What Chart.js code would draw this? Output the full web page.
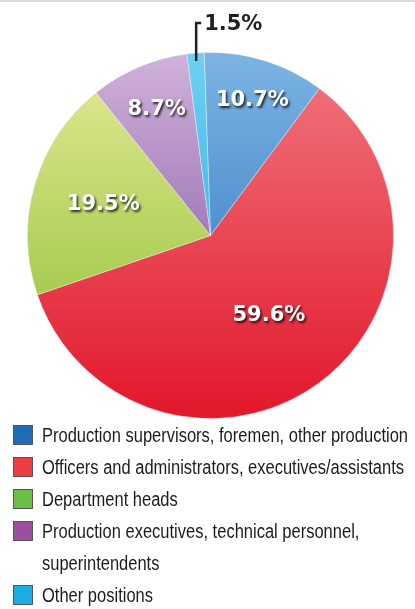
<!DOCTYPE html>
<html>
<head>
<meta charset="utf-8">
<script src="https://cdn.jsdelivr.net/npm/chart.js@4.4.1/dist/chart.umd.min.js"></script>
<style>
  body { margin: 0; background: #fff; width: 415px; height: 609px; overflow: hidden; }
  .topline { position: absolute; left: 0; top: 0; width: 415px; height: 2px; background: #dcdcdc; }
  .wrap { position: absolute; left: 0; top: 0; width: 415px; height: 425px; }
  #legend { position: absolute; left: 13px; top: 419px; margin: 0; padding: 0; list-style: none;
    font-family: 'Liberation Sans', Arial, sans-serif; font-size: 20px; color: #1e1b1c; }
  #legend li { position: relative; padding-left: 29px; line-height: 32px; }
  #legend .txt { display: inline-block; transform-origin: 0 0; }
  #legend .box { position: absolute; left: 0; top: 6px; width: 20px; height: 20px; border: 1px solid #555; box-sizing: border-box; }
</style>
</head>
<body>
<div class="topline"></div>
<div class="wrap"><canvas id="myChart"></canvas></div>
<ul id="legend"></ul>
<script>
const categories = [
  'Production supervisors, foremen, other production',
  'Officers and administrators, executives/assistants',
  'Department heads',
  'Production executives, technical personnel, superintendents',
  'Other positions'
];
const shares = [10.7, 59.6, 19.5, 8.7, 1.5];

// legend swatch colours, and light/dark ends of the slice shading
const legendColors = ['#1f6db5', '#ef3e42', '#6abf45', '#9c4f9e', '#1aace3'];
const lightColors = ['#7cb4e3', '#f07880', '#e6ea96', '#d0b2da', '#6fd0f2'];
const darkColors = ['#256cba', '#e2172a', '#86bd2c', '#74449a', '#16a6df'];
// how far out (fraction of radius) each inside label sits
const labelDepth = [0.77, 0.54, 0.61, 0.75, 1];

const ctx = document.getElementById('myChart');

function shade(c) {
  const i = c.dataIndex;
  const area = c.chart.chartArea;
  if (!area) return legendColors[i];
  const g = c.chart.ctx.createLinearGradient(0, area.top, 0, area.bottom);
  g.addColorStop(0, lightColors[i]);
  g.addColorStop(1, darkColors[i]);
  return g;
}

const sliceLabels = {
  id: 'sliceLabels',
  afterDatasetsDraw(chart) {
    const c = chart.ctx;
    const arcs = chart.getDatasetMeta(0).data;
    c.save();
    c.font = 'bold 21px "DejaVu Sans", sans-serif';
    c.textBaseline = 'middle';
    arcs.forEach((arc, i) => {
      const text = shares[i].toFixed(1) + '%';
      const mid = (arc.startAngle + arc.endAngle) / 2;
      if (shares[i] < 5) {
        // small slice: label outside with a leader line
        const r = arc.outerRadius - 8;
        const x = arc.x + Math.cos(mid) * r;
        const y = arc.y + Math.sin(mid) * r;
        const topY = 23;
        c.strokeStyle = '#231f20';
        c.lineWidth = 2.5;
        c.beginPath();
        c.moveTo(x, y);
        c.lineTo(x, topY);
        c.lineTo(x + 5, topY);
        c.stroke();
        c.fillStyle = '#231f20';
        c.textAlign = 'left';
        c.fillText(text, x + 8, topY + 2);
        return;
      }
      const r = arc.outerRadius * labelDepth[i];
      const x = arc.x + Math.cos(mid) * r;
      const y = arc.y + Math.sin(mid) * r;
      c.textAlign = 'center';
      c.shadowColor = 'rgba(0,0,0,0.8)';
      c.shadowOffsetX = 1.5;
      c.shadowOffsetY = 2;
      c.shadowBlur = 2.5;
      c.fillStyle = '#fff';
      c.fillText(text, x, y);
      c.shadowColor = 'transparent';
    });
    c.restore();
  }
};

const myChart = new Chart(ctx, {
  type: 'pie',
  data: {
    labels: categories,
    datasets: [{
      data: shares,
      backgroundColor: shade,
      borderColor: 'rgba(255,255,255,0.35)',
      borderWidth: 1
    }]
  },
  options: {
    responsive: true,
    maintainAspectRatio: false,
    animation: false,
    rotation: -2,
    layout: { padding: { top: 52, bottom: 6, left: 27, right: 21 } },
    plugins: {
      legend: { display: false },
      tooltip: { enabled: false }
    }
  },
  plugins: [sliceLabels]
});

// legend below the pie, text squeezed to a condensed look
const legendEl = document.getElementById('legend');
const measure = document.createElement('canvas').getContext('2d');
measure.font = '20px "Liberation Sans", Arial, sans-serif';
const squeeze = 366 / measure.measureText(categories[0]).width;
categories.forEach((name, i) => {
  const li = document.createElement('li');
  const box = document.createElement('span');
  box.className = 'box';
  box.style.background = legendColors[i];
  const txt = document.createElement('span');
  txt.className = 'txt';
  txt.textContent = name;
  txt.style.width = (372 / squeeze) + 'px';
  txt.style.transform = 'scaleX(' + squeeze + ')';
  li.appendChild(box);
  li.appendChild(txt);
  legendEl.appendChild(li);
});
</script>
</body>
</html>
